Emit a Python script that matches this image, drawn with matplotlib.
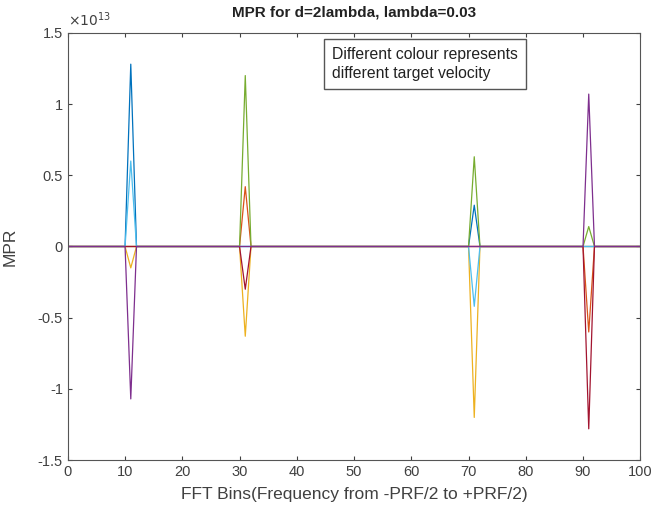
import numpy as np
import matplotlib
matplotlib.use('Agg')
import matplotlib.pyplot as plt
from matplotlib.ticker import FuncFormatter

plt.rcParams['font.family'] = ['Liberation Sans', 'DejaVu Sans']

bins = np.arange(0, 101)
spike_bins = [11, 31, 71, 91]

# peak MPR values (x1e13) at each spike bin, one list per target velocity
mpr_blue = [1.28, 0, 0.29, 0]
mpr_orange = [0, 0.42, 0, -0.60]
mpr_yellow = [-0.15, -0.63, -1.20, 0]
mpr_green = [0, 1.20, 0.63, 0.14]
mpr_lightblue = [0.60, 0, -0.42, 0]
mpr_darkred = [0, -0.30, 0, -1.28]
mpr_purple = [-1.07, 0, 0, 1.07]

series = [
    (mpr_blue, '#0072BD'),
    (mpr_orange, '#D95319'),
    (mpr_yellow, '#EDB120'),
    (mpr_green, '#77AC30'),
    (mpr_lightblue, '#4DBEEE'),
    (mpr_darkred, '#A2142F'),
    (mpr_purple, '#7E2F8E'),
]

fig = plt.figure(figsize=(6.52, 5.13), dpi=100)
ax = fig.add_axes([0.104, 0.103, 0.878, 0.833])

for vals, col in series:
    y = np.zeros(len(bins))
    for b, v in zip(spike_bins, vals):
        y[b] = v * 1e13
    ax.plot(bins, y, color=col, linewidth=0.9)

ax.set_xlim(0, 100)
ax.set_ylim(-1.5e13, 1.5e13)
ax.set_xticks(np.arange(0, 101, 10))
ax.set_yticks(np.arange(-1.5e13, 1.51e13, 0.5e13))
ax.yaxis.set_major_formatter(FuncFormatter(lambda v, p: '%g' % round(v / 1e13, 2)))
ax.tick_params(direction='in', top=True, right=True, labelsize=10.5,
               colors='#404040', length=3)
for s in ax.spines.values():
    s.set_color('#555555')
ax.text(0.0, 1.008, r'$\times10^{13}$', transform=ax.transAxes, fontsize=10,
        color='#404040', ha='left', va='bottom')

ax.set_title('MPR for d=2lambda, lambda=0.03', fontsize=11, fontweight='bold',
             color='#222222', pad=12)
ax.set_xlabel('FFT Bins(Frequency from -PRF/2 to +PRF/2)', fontsize=12.5,
              color='#404040', labelpad=6)
ax.set_ylabel('MPR', fontsize=12.5, color='#404040')
ax.yaxis.set_label_coords(-0.087, 0.5)

ax.text(0.462, 0.968, 'Different colour represents\ndifferent target velocity',
        transform=ax.transAxes, fontsize=11.3, va='top', ha='left',
        color='#222222', linespacing=1.4,
        bbox=dict(boxstyle='square,pad=0.5', fc='white', ec='#555555', lw=1))

fig.savefig('out.png', dpi=100)
